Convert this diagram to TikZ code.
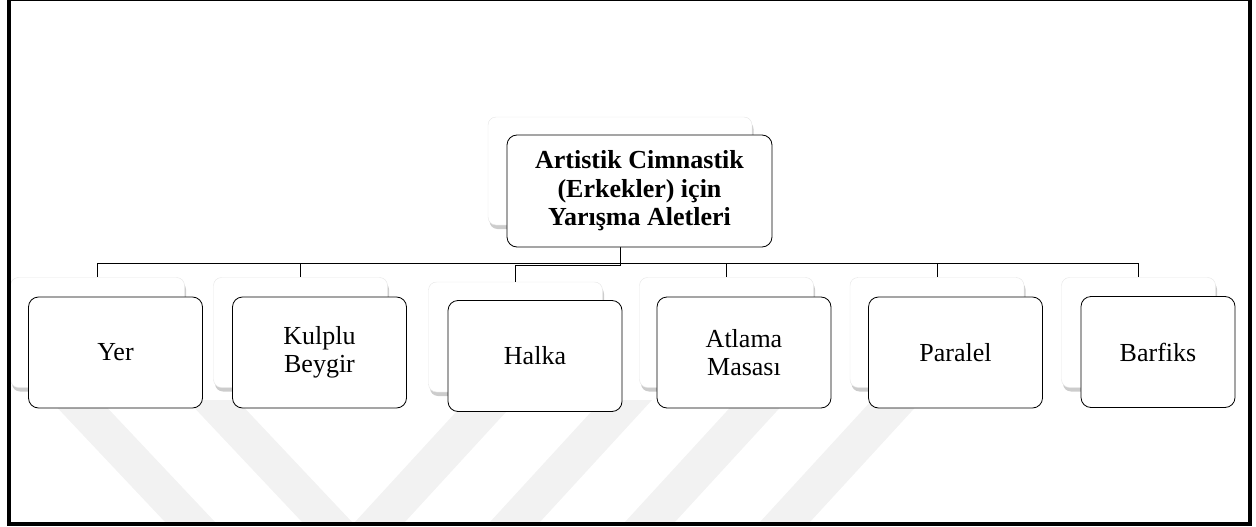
\documentclass[tikz,border=0pt]{standalone}
\usepackage{fontspec}
\setmainfont{Liberation Serif}
\usetikzlibrary{shadows}
\tikzset{
  backbox/.style={draw=black!10, fill=white, rounded corners=8pt,
    minimum width=174pt, minimum height=110pt,
    drop shadow={shadow xshift=1.5pt, shadow yshift=-4pt, opacity=.4}},
  frontbox/.style={draw=black, line width=0.8pt, fill=white, rounded corners=10pt,
    minimum width=174pt, minimum height=111pt, align=center,
    font=\fontsize{26}{27.5}\selectfont},
  rootbox/.style={frontbox, minimum width=265pt, minimum height=112pt,
    font=\fontsize{26}{28.5}\selectfont\bfseries},
  elbow/.style={draw=black, line width=0.7pt},
  watermark/.style={fill=black!5}
}
\begin{document}
\begin{tikzpicture}[x=1pt,y=-1pt]
            \useasboundingbox (0,0) rectangle (1256,527);
            % Filigrana di sfondo
            \fill[watermark] (50,400) -- (100,400) -- (215,522) -- (165,522) -- cycle;
            \fill[watermark] (187,400) -- (237,400) -- (352,522) -- (302,522) -- cycle;
            \fill[watermark] (467,400) -- (517,400) -- (405,522) -- (355,522) -- cycle;
            \fill[watermark] (602,400) -- (652,400) -- (540,522) -- (490,522) -- cycle;
            \fill[watermark] (737,400) -- (787,400) -- (675,522) -- (625,522) -- cycle;
            \fill[watermark] (872,400) -- (922,400) -- (810,522) -- (760,522) -- cycle;
            % Radice, riquadro dietro
            \node[backbox, minimum width=264pt, minimum height=108pt] (rootback) at (620,171) {};
            % Riquadri dietro dei figli
            \node[backbox] (yerback) at (97.5,332.5) {};
            \node[backbox] (kulpluback) at (300.5,332.5) {};
            \node[backbox] (halkaback) at (515.5,337) {};
            \node[backbox] (atlamaback) at (726.5,332.5) {};
            \node[backbox] (paralelback) at (937,332.5) {};
            \node[backbox, minimum width=154pt] (barfiksback) at (1138.5,332.5) {};
            % Collegamenti dalla radice
            \draw[elbow] (rootback.south) -- ++(0,38) -| (yerback.north);
            \draw[elbow] (rootback.south) -- ++(0,38) -| (kulpluback.north);
            \draw[elbow] (rootback.south) -- ++(0,40) -| (halkaback.north);
            \draw[elbow] (rootback.south) -- ++(0,38) -| (atlamaback.north);
            \draw[elbow] (rootback.south) -- ++(0,38) -| (paralelback.north);
            \draw[elbow] (rootback.south) -- ++(0,38) -| (barfiksback.north);
            % Radice, riquadro davanti
            \node[rootbox] (root) at (639.5,191) {Artistik Cimnastik\\(Erkekler) için\\Yarışma Aletleri};
            % Riquadri davanti dei figli
            \node[frontbox] (yer) at (115.5,352.5) {Yer};
            \node[frontbox] (kulplu) at (319.5,352.5) {Kulplu\\Beygir};
            \node[frontbox] (halka) at (535,356) {Halka};
            \node[frontbox] (atlama) at (744,352.5) {Atlama\\Masası};
            \node[frontbox] (paralel) at (955.5,352.5) {Paralel};
            \node[frontbox, minimum width=154pt] (barfiks) at (1158,352) {Barfiks};
            % Cornice
            \draw[line width=4pt] (9,-1) rectangle (1250,524);
\end{tikzpicture}
\end{document}
